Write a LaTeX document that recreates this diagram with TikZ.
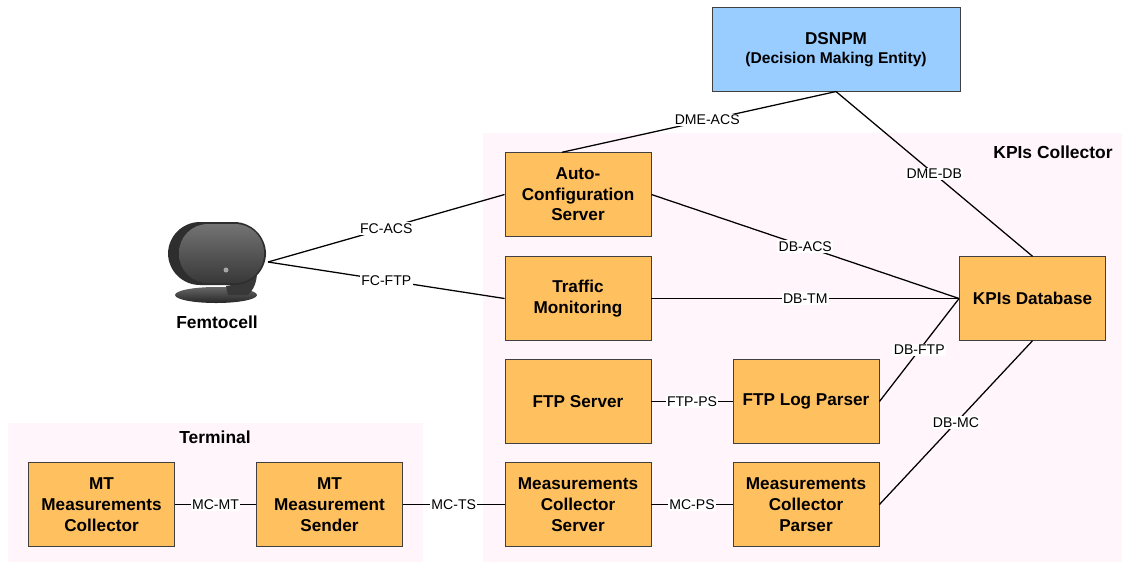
\documentclass[tikz,border=0pt]{standalone}
\usepackage{fontspec}
\setmainfont{Liberation Sans}
\usepackage{xcolor}
\usetikzlibrary{calc}

\definecolor{boxorange}{RGB}{255,192,96}
\definecolor{dmeblue}{RGB}{153,204,255}
\definecolor{zonepink}{RGB}{255,245,250}

\begin{document}
\begin{tikzpicture}[x=0.025cm, y=-0.025cm,
		box/.style={draw=black!75, fill=boxorange, line width=0.6pt, minimum width=3.65cm, minimum height=2.09cm, align=center, inner sep=2pt, font=\bfseries\fontsize{12.2}{14.7}\selectfont},
		zonetitle/.style={font=\bfseries\fontsize{12.4}{14}\selectfont},
		link/.style={line width=0.9pt, black},
		lbl/.style={fill=white, inner sep=1pt, font=\fontsize{10}{12}\selectfont}]
			\useasboundingbox (0,0) rectangle (1122,562);
			\fill[white] (0,0) rectangle (1122,562);
			% the two areas
			\fill[zonepink] (483,133) rectangle (1122,562);
			\fill[zonepink] (8,423) rectangle (423,562);
			\node[zonetitle] (kpititle) at (1053,152) {KPIs Collector};
			\node[zonetitle] (termtitle) at (215,437) {Terminal};
			% decision making entity
			\node[box, fill=dmeblue, minimum width=6.2cm, minimum height=2.08cm] (dsnpm) at (836,49.5)
				{DSNPM\\[-1pt]{\fontsize{11.1}{13}\selectfont(Decision Making Entity)}};
			% collector boxes
			\node[box] (acs) at (578,194.5) {Auto-\\Configuration\\Server};
			\node[box] (tm) at (578,298.5) {Traffic\\Monitoring};
			\node[box] (ftps) at (578,401.5) {FTP Server};
			\node[box] (mcs) at (578,504.5) {Measurements\\Collector\\Server};
			\node[box] (ftplp) at (806,401.5) {FTP Log Parser};
			\node[box] (mcp) at (806,504.5) {Measurements\\Collector\\Parser};
			\node[box] (kdb) at (1032.5,298.5) {KPIs Database};
			% terminal boxes
			\node[box] (mtmc) at (101.5,504.5) {MT\\Measurements\\Collector};
			\node[box] (mtms) at (329.5,504.5) {MT\\Measurement\\Sender};
			% femtocell: base, neck, body
			\shade[top color=black!60, bottom color=black!85] (216,295) ellipse [x radius=41, y radius=8];
			\fill[black!78] (226,286) .. controls (237,285) and (244,279) .. (248,270) -- (257,272) .. controls (257,283) and (253,290) .. (248,295) -- (228,295) -- cycle;
			\fill[black!82, rounded corners=0.8cm] (168,222) rectangle (266,285);
			\shade[top color=black!55, bottom color=black!78, rounded corners=0.72cm] (179,224) rectangle (264,283);
			\fill[black!35] (226,270) circle (2.5);
			\node[zonetitle] (femto) at (217,322) {Femtocell};
			\coordinate (fc) at (268,262);
			% interfaces
			\draw[link] (dsnpm.south) -- node[lbl, pos=0.47] {DME-ACS} ($(acs.north)+(-16,0)$);
			\draw[link] (dsnpm.south) -- node[lbl] {DME-DB} (kdb.north);
			\draw[link] (fc) -- node[lbl] {FC-ACS} (acs.west);
			\draw[link] (fc) -- node[lbl] {FC-FTP} (tm.west);
			\draw[link] (acs.east) -- node[lbl] {DB-ACS} (kdb.west);
			\draw[link] (tm.east) -- node[lbl] {DB-TM} (kdb.west);
			\draw[link] (ftplp.east) -- node[lbl] {DB-FTP} (kdb.west);
			\draw[link] (mcp.east) -- node[lbl] {DB-MC} (kdb.south);
			\draw[link] (ftps.east) -- node[lbl] {FTP-PS} (ftplp.west);
			\draw[link] (mcs.east) -- node[lbl] {MC-PS} (mcp.west);
			\draw[link] (mtms.east) -- node[lbl] {MC-TS} (mcs.west);
			\draw[link] (mtmc.east) -- node[lbl] {MC-MT} (mtms.west);
			\end{tikzpicture}
\end{document}
